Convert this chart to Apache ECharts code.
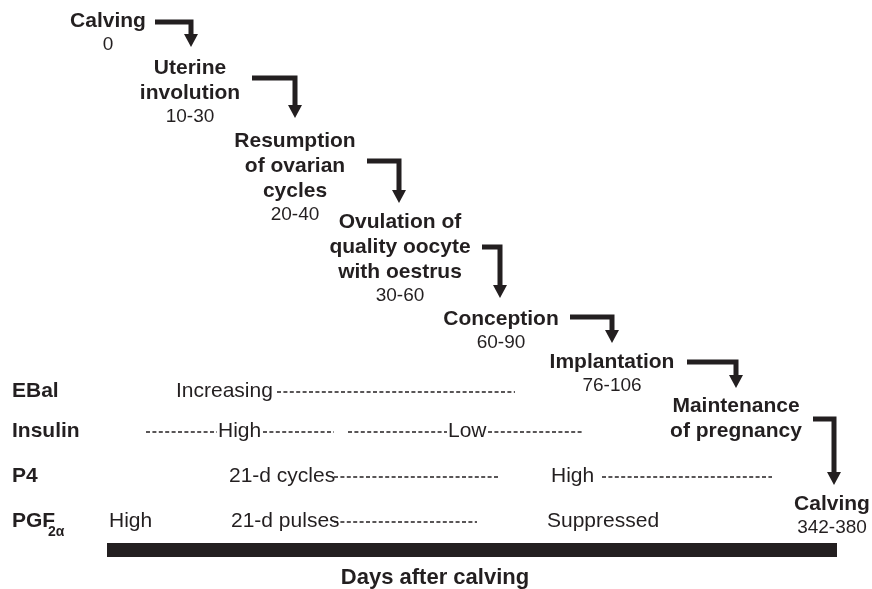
<!DOCTYPE html>
<html>
<head>
<meta charset="utf-8">
<script src="https://cdn.jsdelivr.net/npm/echarts@6/dist/echarts.min.js"></script>
<style>
html, body { margin: 0; padding: 0; background: #fff; }
#main { width: 872px; height: 589px; }
</style>
</head>
<body>
<div id="main"></div>
<script>
// stages from calving to the next calving, with their day ranges
const stageNames = ['Calving', 'Uterine\ninvolution', 'Resumption\nof ovarian\ncycles',
    'Ovulation of\nquality oocyte\nwith oestrus', 'Conception', 'Implantation',
    'Maintenance\nof pregnancy', 'Calving'];
const stageDays = ['0', '10-30', '20-40', '30-60', '60-90', '76-106', '', '342-380'];

// rows under the staircase
const rowNames = ['EBal', 'Insulin', 'P4', 'PGF'];
const rowStates = [['Increasing'], ['High', 'Low'], ['21-d cycles', 'High'], ['High', '21-d pulses', 'Suppressed']];
const daysRange = [0, 380];

// layout in the 872x589 frame
const stageX = [108, 190, 295, 400, 501, 612, 736, 832];
const stageY = [21, 68, 141, 222, 319, 362, 406, 504];
const arrowPath = [ // startX, y, turnX, tipY
    [155, 22, 191, 47], [252, 78, 295, 118], [367, 161, 399, 203], [482, 247, 500, 298],
    [570, 317, 612, 343], [687, 362, 736, 388], [813, 419, 834, 485]
];
const rowY = [391, 431, 476, 521];
const stateX = [[176], [218, 448], [229, 551], [109, 231, 547]];
const dashX = [
    [[277, 515]],
    [[146, 217], [263, 334], [348, 447], [488, 584]],
    [[334, 500], [602, 772]],
    [[334, 477]]
];

const ink = '#231f20';
const font = '"Liberation Sans", Arial, Helvetica, sans-serif';
const solid = { opacity: 1, color: ink };

var myChart = echarts.init(document.getElementById('main'));

let series = [];

// stage titles, one point per text line
let titleData = [];
let rangeData = [];
stageNames.forEach((name, i) => {
    let lines = name.split('\n');
    lines.forEach((ln, k) => {
        titleData.push({ value: [stageX[i], stageY[i] + 25 * k], name: ln });
    });
    if (stageDays[i]) {
        rangeData.push({ value: [stageX[i], stageY[i] + 25 * (lines.length - 1) + 24], name: stageDays[i] });
    }
});
series.push({
    type: 'scatter', symbolSize: 0, data: titleData, itemStyle: solid,
    label: { show: true, position: 'inside', formatter: '{b}', color: ink,
        fontFamily: font, fontSize: 21, fontWeight: 'bold' }
});
series.push({
    type: 'scatter', symbolSize: 0, data: rangeData, itemStyle: solid,
    label: { show: true, position: 'inside', formatter: '{b}', color: ink,
        fontFamily: font, fontSize: 19 }
});

// elbow arrows between stages
arrowPath.forEach(a => {
    series.push({
        type: 'line', symbol: 'none',
        data: [[a[0], a[1]], [a[2], a[1]], [a[2], a[3] - 10]],
        lineStyle: { color: ink, width: 5, cap: 'butt', join: 'miter' }
    });
});
series.push({
    type: 'scatter', symbol: 'triangle', symbolSize: [14, 13], symbolRotate: 180,
    itemStyle: solid,
    data: arrowPath.map(a => [a[2], a[3] - 6.5])
});

// row labels
series.push({
    type: 'scatter', symbolSize: 0, itemStyle: solid,
    data: rowNames.map((r, i) => ({ value: [12, rowY[i]], name: r })),
    label: { show: true, position: 'right', distance: 0, formatter: '{b}', color: ink,
        fontFamily: font, fontSize: 21, fontWeight: 'bold' }
});
series.push({
    type: 'scatter', symbolSize: 0, itemStyle: solid,
    data: [{ value: [48, rowY[3] + 11], name: '2\u03b1' }],
    label: { show: true, position: 'right', distance: 0, formatter: '{b}', color: ink,
        fontFamily: font, fontSize: 14, fontWeight: 'bold' }
});

// states in each row
let stateData = [];
rowStates.forEach((states, i) => {
    states.forEach((s, k) => {
        stateData.push({ value: [stateX[i][k], rowY[i]], name: s });
    });
});
series.push({
    type: 'scatter', symbolSize: 0, data: stateData, itemStyle: solid,
    label: { show: true, position: 'right', distance: 0, formatter: '{b}', color: ink,
        fontFamily: font, fontSize: 21 }
});

// dotted continuation lines
dashX.forEach((segs, i) => {
    segs.forEach(s => {
        series.push({
            type: 'line', symbol: 'none',
            data: [[s[0], rowY[i] + 1], [s[1], rowY[i] + 1]],
            lineStyle: { color: ink, width: 1.4, type: [4, 2.4] }
        });
    });
});

var option = {
    animation: false,
    grid: [
        { left: 0, right: 0, top: 0, bottom: 0 },
        { left: 107, right: 35, top: 549, height: 1 }
    ],
    xAxis: [
        { type: 'value', min: 0, max: 872, show: false },
        {
            gridIndex: 1, type: 'value', min: daysRange[0], max: daysRange[1],
            position: 'bottom',
            axisLine: { show: true, lineStyle: { color: ink, width: 14, cap: 'butt' } },
            axisTick: { show: false }, axisLabel: { show: false }, splitLine: { show: false },
            name: 'Days after calving', nameLocation: 'middle', nameGap: 18,
            nameTextStyle: { color: ink, fontFamily: font, fontSize: 22, fontWeight: 'bold',
                padding: [0, 74, 0, 0] }
        }
    ],
    yAxis: [
        { type: 'value', min: 0, max: 589, inverse: true, show: false },
        { gridIndex: 1, type: 'value', show: false }
    ],
    series: series
};

myChart.setOption(option);
</script>
</body>
</html>
